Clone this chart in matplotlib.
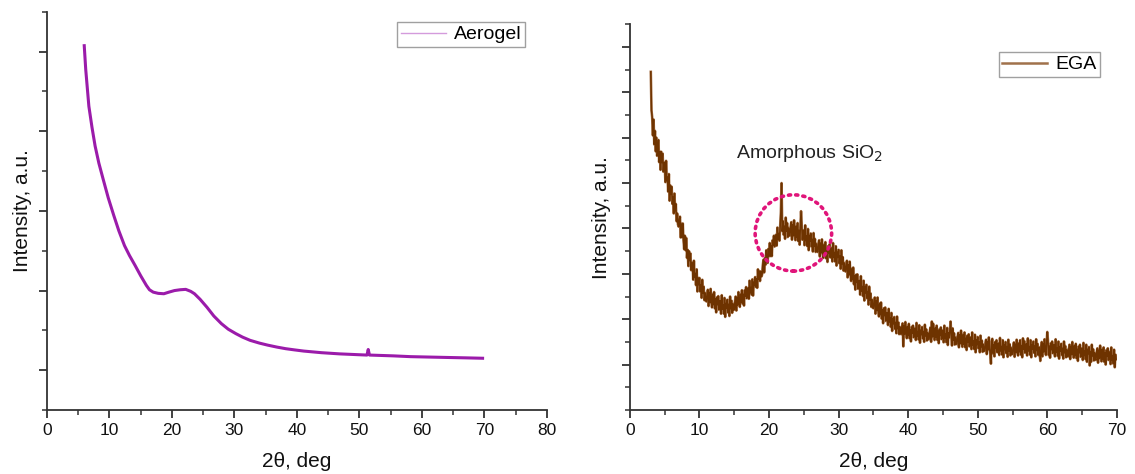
import numpy as np
import matplotlib
matplotlib.use("Agg")
import matplotlib.pyplot as plt
from matplotlib.patches import Ellipse
from matplotlib.lines import Line2D
from matplotlib.ticker import FixedLocator

plt.rcParams['font.family'] = ['Liberation Sans', 'DejaVu Sans']

# ---- Aerogel (left panel) ----
aero_x = [5.96, 6.2, 6.7, 7.2, 7.7, 8.3, 9.0, 9.8, 10.7, 11.5, 12.4, 13.2, 14.1, 15.0, 15.9, 16.4,
          17.0, 17.8, 18.7, 19.5, 20.4, 21.3, 22.2, 23.0, 23.6, 24.5, 25.6, 26.7, 27.9, 29.0, 30.2,
          31.3, 32.5, 34.0, 35.3, 36.8, 38.2, 39.6, 41.1, 42.5, 43.9, 46.8, 49.7, 51.2, 51.4, 51.6,
          53.5, 55.4, 58.2, 61.1, 64.0, 67.0, 69.7]
aero_y = [9.15, 8.55, 7.63, 7.10, 6.63, 6.20, 5.79, 5.33, 4.88, 4.50, 4.13, 3.88, 3.63, 3.37, 3.13, 3.02,
          2.96, 2.93, 2.92, 2.96, 3.00, 3.02, 3.03, 2.98, 2.92, 2.78, 2.58, 2.36, 2.17, 2.03, 1.92,
          1.83, 1.75, 1.68, 1.63, 1.58, 1.54, 1.51, 1.48, 1.46, 1.44, 1.41, 1.39, 1.38, 1.52, 1.38,
          1.37, 1.36, 1.34, 1.33, 1.32, 1.31, 1.30]

# ---- EGA (right panel): scan from 3.0 deg in 0.1 deg steps, one row per degree ----
ega_start = 3.0
ega_step = 0.1
ega_y = [
    7.45, 6.60, 6.45, 6.05, 6.40, 5.85, 6.15, 5.70, 6.00, 5.60,   # 3
    5.64, 5.95, 5.46, 5.69, 5.29, 5.69, 5.45, 5.65, 5.25, 5.45,   # 4
    5.44, 5.02, 5.49, 5.05, 5.13, 4.81, 5.20, 4.61, 4.95, 4.75,   # 5
    4.92, 4.54, 4.69, 4.33, 4.77, 4.39, 4.54, 4.16, 4.33, 4.09,   # 6
    4.04, 4.21, 4.26, 3.80, 4.10, 3.81, 4.11, 3.74, 3.54, 3.84,   # 7
    3.52, 3.79, 3.35, 3.53, 3.17, 3.50, 3.29, 3.45, 3.08, 3.25,   # 8
    3.22, 2.87, 3.29, 2.92, 3.01, 2.75, 3.10, 2.61, 2.91, 2.76,   # 9
    2.91, 2.61, 2.76, 2.47, 2.87, 2.57, 2.72, 2.42, 2.58, 2.41,   # 10
    2.39, 2.57, 2.65, 2.29, 2.59, 2.37, 2.67, 2.40, 2.26, 2.55,   # 11
    2.32, 2.60, 2.24, 2.45, 2.15, 2.48, 2.32, 2.51, 2.21, 2.40,   # 12
    2.41, 2.12, 2.53, 2.22, 2.32, 2.12, 2.47, 2.05, 2.35, 2.24,   # 13
    2.43, 2.15, 2.33, 2.07, 2.50, 2.23, 2.41, 2.14, 2.34, 2.20,   # 14
    2.22, 2.40, 2.50, 2.19, 2.48, 2.31, 2.60, 2.37, 2.27, 2.55,   # 15
    2.37, 2.64, 2.34, 2.55, 2.30, 2.64, 2.51, 2.71, 2.46, 2.65,   # 16
    2.69, 2.45, 2.85, 2.58, 2.70, 2.54, 2.88, 2.52, 2.82, 2.74,   # 17
    2.93, 2.71, 2.89, 2.69, 3.10, 2.88, 3.06, 2.84, 3.05, 2.94,   # 18
    2.98, 3.19, 3.31, 3.03, 3.35, 3.20, 3.52, 3.32, 3.24, 3.55,   # 19
    3.39, 3.68, 3.39, 3.62, 3.39, 3.74, 3.63, 3.84, 3.60, 3.81,   # 20
    3.86, 3.62, 4.02, 3.77, 3.89, 3.73, 4.07, 4.36, 5.00, 3.94,   # 21
    4.16, 3.86, 4.05, 3.77, 4.24, 3.94, 4.12, 3.81, 4.01, 3.85,   # 22
    3.84, 4.04, 4.14, 3.75, 4.08, 3.84, 4.18, 3.88, 3.74, 4.05,   # 23
    3.80, 4.12, 3.72, 3.96, 3.64, 4.02, 4.38, 4.06, 3.75, 3.96,   # 24
    3.95, 3.63, 4.07, 3.73, 3.84, 3.61, 3.99, 3.52, 3.85, 3.72,   # 25
    3.89, 3.60, 3.76, 3.49, 3.90, 3.61, 3.77, 3.48, 3.66, 3.50,   # 26
    3.48, 3.66, 3.74, 3.38, 3.68, 3.46, 3.76, 3.49, 3.35, 3.64,   # 27
    3.41, 3.70, 3.34, 3.56, 3.26, 3.61, 3.46, 3.65, 3.36, 3.55,   # 28
    3.57, 3.27, 3.68, 3.36, 3.47, 3.27, 3.61, 3.18, 3.48, 3.36,   # 29
    3.53, 3.23, 3.39, 3.11, 3.52, 3.22, 3.37, 3.07, 3.24, 3.07,   # 30
    3.05, 3.22, 3.29, 2.92, 3.20, 2.98, 3.27, 2.99, 2.84, 3.11,   # 31
    2.87, 3.14, 2.77, 2.96, 2.65, 2.98, 2.81, 2.99, 2.67, 2.85,   # 32
    2.85, 2.54, 2.95, 2.62, 2.72, 2.51, 2.85, 2.41, 2.71, 2.58,   # 33
    2.76, 2.46, 2.61, 2.32, 2.72, 2.42, 2.57, 2.27, 2.43, 2.26,   # 34
    2.24, 2.41, 2.48, 2.12, 2.41, 2.19, 2.48, 2.20, 2.06, 2.34,   # 35
    2.10, 2.37, 2.01, 2.21, 1.91, 2.24, 2.08, 2.26, 1.96, 2.14,   # 36
    2.14, 1.87, 2.23, 1.94, 2.03, 1.83, 2.14, 1.74, 2.01, 1.90,   # 37
    2.05, 1.79, 1.93, 1.69, 2.06, 1.79, 1.93, 1.67, 1.83, 1.68,   # 38
    1.67, 1.83, 1.91, 1.40, 1.86, 1.67, 1.94, 1.70, 1.58, 1.84,   # 39
    1.64, 1.90, 1.58, 1.77, 1.51, 1.83, 1.69, 1.86, 1.60, 1.78,   # 40
    1.80, 1.54, 1.92, 1.63, 1.73, 1.55, 1.87, 1.48, 1.76, 1.66,   # 41
    1.83, 1.58, 1.73, 1.50, 1.88, 1.63, 1.78, 1.53, 1.70, 1.56,   # 42
    1.56, 1.73, 1.82, 1.50, 1.95, 1.61, 1.90, 1.66, 1.54, 1.81,   # 43
    1.60, 1.86, 1.54, 1.74, 1.47, 1.78, 1.64, 1.82, 1.56, 1.73,   # 44
    1.75, 1.49, 1.86, 1.58, 1.68, 1.49, 1.81, 1.43, 1.70, 1.60,   # 45
    1.76, 1.95, 1.66, 1.42, 1.80, 1.54, 1.69, 1.44, 1.60, 1.46,   # 46
    1.45, 1.62, 1.70, 1.38, 1.66, 1.47, 1.75, 1.51, 1.39, 1.66,   # 47
    1.45, 1.71, 1.38, 1.58, 1.32, 1.64, 1.50, 1.67, 1.40, 1.58,   # 48
    1.60, 1.34, 1.71, 1.43, 1.52, 1.34, 1.66, 1.27, 1.55, 1.44,   # 49
    1.61, 1.36, 1.50, 1.27, 1.64, 1.39, 1.53, 1.28, 1.44, 1.30,   # 50
    1.30, 1.47, 1.55, 1.23, 1.51, 1.33, 1.60, 1.36, 1.24, 1.02,   # 51
    1.51, 1.57, 1.25, 1.44, 1.18, 1.50, 1.36, 1.54, 1.27, 1.45,   # 52
    1.47, 1.21, 1.59, 1.30, 1.40, 1.22, 1.54, 1.16, 1.44, 1.33,   # 53
    1.50, 1.25, 1.40, 1.17, 1.55, 1.30, 1.45, 1.20, 1.37, 1.23,   # 54
    1.23, 1.40, 1.49, 1.17, 1.45, 1.27, 1.55, 1.31, 1.20, 1.47,   # 55
    1.28, 1.54, 1.22, 1.42, 1.16, 1.58, 1.34, 1.52, 1.26, 1.44,   # 56
    1.46, 1.20, 1.58, 1.30, 1.40, 1.22, 1.54, 1.16, 1.44, 1.34,   # 57
    1.51, 1.26, 1.41, 1.18, 1.56, 1.31, 1.46, 1.21, 1.38, 1.24,   # 58
    1.08, 1.41, 1.50, 1.18, 1.46, 1.28, 1.56, 1.32, 1.21, 1.48,   # 59
    1.72, 1.53, 1.21, 1.41, 1.15, 1.47, 1.33, 1.51, 1.25, 1.43,   # 60
    1.44, 1.18, 1.56, 1.27, 1.37, 1.19, 1.51, 1.13, 1.40, 1.30,   # 61
    1.46, 1.21, 1.36, 1.13, 1.51, 1.26, 1.41, 1.16, 1.33, 1.19,   # 62
    1.18, 1.35, 1.44, 1.12, 1.40, 1.22, 1.50, 1.26, 1.15, 1.42,   # 63
    1.20, 1.46, 1.14, 1.34, 1.08, 1.40, 1.26, 1.44, 1.17, 1.35,   # 64
    1.36, 1.10, 1.48, 1.20, 1.30, 1.12, 1.44, 1.06, 1.34, 1.24,   # 65
    1.39, 0.98, 1.29, 1.06, 1.44, 1.19, 1.34, 1.09, 1.26, 1.12,   # 66
    1.10, 1.27, 1.36, 1.04, 1.32, 1.14, 1.42, 1.18, 1.07, 1.34,   # 67
    1.12, 1.38, 1.06, 1.26, 1.00, 1.32, 1.18, 1.36, 1.10, 1.28,   # 68
    1.27, 1.01, 1.38, 1.10, 1.20, 1.02, 1.33, 0.94, 1.22, 1.12,   # 69
]
ega_x = ega_start + ega_step * np.arange(len(ega_y))

xlabel = "2θ, deg"
ylabel = "Intensity, a.u."
annot = "Amorphous SiO$_2$"
circle_center = (23.5, 3.9)
circle_size = (11.0, 1.68)

aero_color = "#9B1BAA"
ega_color = "#6E3300"
ega_edge = "#A8764E"
axis_color = "#333333"

fig = plt.figure(figsize=(11.35, 4.74), dpi=100)
ax1 = fig.add_axes([0.0414, 0.135, 0.4405, 0.840])
ax2 = fig.add_axes([0.555, 0.135, 0.429, 0.814])

def style(ax, xmax, xmajor, ymax, ymajor, yminor, ypad):
    for s in ["top", "right"]:
        ax.spines[s].set_visible(False)
    for s in ["left", "bottom"]:
        ax.spines[s].set_color(axis_color)
        ax.spines[s].set_linewidth(1.3)
    ax.set_xlim(0, xmax)
    ax.set_ylim(0, ymax)
    ax.xaxis.set_major_locator(FixedLocator(xmajor))
    ax.xaxis.set_minor_locator(FixedLocator([v + 5 for v in xmajor[:-1]]))
    ax.yaxis.set_major_locator(FixedLocator(ymajor))
    ax.yaxis.set_minor_locator(FixedLocator(yminor))
    ax.tick_params(axis='both', which='major', direction='out', length=6, width=1.3,
                   color=axis_color, labelsize=12.5, labelcolor="#111111")
    ax.tick_params(axis='both', which='minor', direction='out', length=3.5, width=1.1,
                   color=axis_color)
    ax.tick_params(axis='y', which='both', labelleft=False)
    ax.set_xlabel(xlabel, fontsize=15, labelpad=10, color="#111111")
    ax.set_ylabel(ylabel, fontsize=15, labelpad=ypad, color="#111111")

style(ax1, 80, list(range(0, 81, 10)), 10, [1, 3, 5, 7, 9], [0, 2, 4, 6, 8, 10], 5)
style(ax2, 70, list(range(0, 71, 10)), 8.5, [1, 2, 3, 4, 5, 6, 7, 8],
      [0, 0.5, 1.5, 2.5, 3.5, 4.5, 5.5, 6.5, 7.5, 8.5], 7.5)

ax1.plot(aero_x, aero_y, color=aero_color, lw=2.2, solid_joinstyle='round')
ax2.plot(ega_x, ega_y, color=ega_edge, lw=1.9)
ax2.plot(ega_x, ega_y, color=ega_color, lw=1.1)

h1 = Line2D([], [], color="#D49BDC", lw=1.0)
h2 = Line2D([], [], color="#A0714B", lw=1.8)
leg1 = ax1.legend([h1], ["Aerogel"], loc="upper right", bbox_to_anchor=(0.4626, 0.9536),
                  bbox_transform=fig.transFigure, borderaxespad=0,
                  fontsize=14, frameon=True, fancybox=False, edgecolor="#888888",
                  handlelength=2.3, borderpad=0.2, handletextpad=0.4)
leg1.get_frame().set_linewidth(1.0)
leg2 = ax2.legend([h2], ["EGA"], loc="upper right", bbox_to_anchor=(0.9692, 0.8903),
                  bbox_transform=fig.transFigure, borderaxespad=0,
                  fontsize=14, frameon=True, fancybox=False, edgecolor="#888888",
                  handlelength=2.3, borderpad=0.2, handletextpad=0.4)
leg2.get_frame().set_linewidth(1.0)

ax2.text(15.3, 5.66, annot, fontsize=14, color="#222222", va="center", ha="left")
ax2.add_patch(Ellipse(circle_center, circle_size[0], circle_size[1], fill=False,
                      edgecolor="#E0157A", lw=2.6, linestyle=(0, (0.6, 1.4)),
                      capstyle='round', zorder=3))

fig.savefig("out.png", dpi=100)
